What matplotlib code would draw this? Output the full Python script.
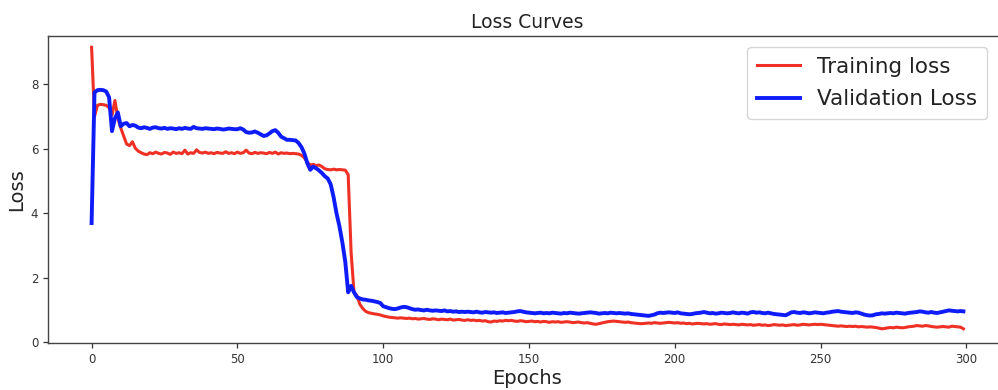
import matplotlib
matplotlib.use("Agg")
import matplotlib.pyplot as plt
import numpy as np

train_loss = [
    9.15, 7.00, 7.35, 7.38, 7.37, 7.35, 7.28, 7.05, 7.50, 6.95,
    6.65, 6.40, 6.15, 6.10, 6.22, 6.02, 5.93, 5.88, 5.84, 5.82,
    5.88, 5.85, 5.90, 5.86, 5.84, 5.89, 5.87, 5.83, 5.90, 5.86,
    5.88, 5.85, 5.96, 5.84, 5.88, 5.86, 5.97, 5.89, 5.87, 5.90,
    5.86, 5.88, 5.85, 5.89, 5.87, 5.86, 5.91, 5.86, 5.88, 5.85,
    5.90, 5.86, 5.88, 5.96, 5.87, 5.85, 5.89, 5.86, 5.88, 5.87,
    5.85, 5.89, 5.86, 5.90, 5.84, 5.88, 5.86, 5.87, 5.85, 5.86,
    5.85, 5.84, 5.80, 5.72, 5.58, 5.50, 5.52, 5.48, 5.50, 5.45,
    5.38, 5.36, 5.35, 5.37, 5.35, 5.36, 5.35, 5.34, 5.20, 2.80,
    1.55, 1.45, 1.18, 1.05, 0.96, 0.92, 0.90, 0.88, 0.87, 0.85,
    0.82, 0.80, 0.78, 0.77, 0.76, 0.75, 0.76, 0.75, 0.74, 0.75,
    0.73, 0.74, 0.72, 0.73, 0.74, 0.72, 0.71, 0.73, 0.72, 0.70,
    0.72, 0.71, 0.70, 0.72, 0.69, 0.70, 0.71, 0.69, 0.68, 0.70,
    0.68, 0.69, 0.67, 0.68, 0.66, 0.67, 0.64, 0.63, 0.66, 0.65,
    0.67, 0.66, 0.68, 0.67, 0.68, 0.66, 0.65, 0.67, 0.66, 0.64,
    0.65, 0.66, 0.64, 0.65, 0.63, 0.65, 0.64, 0.62, 0.64, 0.63,
    0.64, 0.62, 0.63, 0.64, 0.63, 0.61, 0.62, 0.63, 0.61, 0.60,
    0.61, 0.59, 0.57, 0.56, 0.58, 0.60, 0.62, 0.64, 0.65, 0.66,
    0.65, 0.64, 0.63, 0.62, 0.63, 0.61, 0.60, 0.59, 0.58, 0.58,
    0.59, 0.60, 0.59, 0.61, 0.60, 0.59, 0.60, 0.61, 0.62, 0.61,
    0.60, 0.61, 0.59, 0.60, 0.58, 0.59, 0.57, 0.58, 0.59, 0.58,
    0.57, 0.58, 0.56, 0.57, 0.58, 0.56, 0.55, 0.57, 0.56, 0.55,
    0.56, 0.55, 0.54, 0.56, 0.55, 0.54, 0.55, 0.53, 0.54, 0.55,
    0.53, 0.54, 0.52, 0.53, 0.55, 0.54, 0.53, 0.54, 0.52, 0.53,
    0.54, 0.55, 0.53, 0.54, 0.56, 0.55, 0.54, 0.55, 0.56, 0.55,
    0.56, 0.55, 0.54, 0.53, 0.52, 0.51, 0.50, 0.51, 0.50, 0.49,
    0.50, 0.49, 0.50, 0.48, 0.49, 0.48, 0.47, 0.48, 0.47, 0.46,
    0.44, 0.42, 0.43, 0.45, 0.46, 0.45, 0.47, 0.46, 0.45, 0.46,
    0.48, 0.49, 0.50, 0.52, 0.51, 0.50, 0.52, 0.51, 0.49, 0.48,
    0.47, 0.48, 0.49, 0.48, 0.47, 0.50, 0.49, 0.48, 0.47, 0.42,
]

val_loss = [
    3.70, 7.75, 7.82, 7.83, 7.82, 7.78, 7.60, 6.55, 6.95, 7.13,
    6.70, 6.78, 6.80, 6.70, 6.74, 6.72, 6.66, 6.64, 6.67, 6.65,
    6.62, 6.66, 6.67, 6.64, 6.63, 6.65, 6.62, 6.64, 6.63, 6.61,
    6.64, 6.62, 6.65, 6.63, 6.62, 6.68, 6.64, 6.63, 6.62, 6.64,
    6.63, 6.62, 6.61, 6.63, 6.62, 6.60, 6.61, 6.63, 6.62, 6.61,
    6.61, 6.64, 6.60, 6.52, 6.50, 6.51, 6.54, 6.50, 6.45, 6.40,
    6.42, 6.48, 6.55, 6.58, 6.50, 6.38, 6.33, 6.28, 6.28, 6.27,
    6.26, 6.18, 6.05, 5.85, 5.55, 5.35, 5.45, 5.40, 5.33, 5.25,
    5.15, 5.08, 4.90, 4.50, 4.00, 3.60, 3.10, 2.50, 1.55, 1.75,
    1.55, 1.40, 1.36, 1.33, 1.32, 1.30, 1.29, 1.27, 1.25, 1.22,
    1.12, 1.09, 1.06, 1.04, 1.03, 1.05, 1.08, 1.10, 1.09, 1.06,
    1.03, 1.01, 1.02, 1.00, 0.99, 1.01, 0.99, 0.98, 0.99, 0.98,
    0.97, 0.99, 0.96, 0.97, 0.95, 0.96, 0.94, 0.95, 0.94, 0.95,
    0.94, 0.93, 0.95, 0.93, 0.92, 0.94, 0.93, 0.92, 0.93, 0.91,
    0.92, 0.93, 0.91, 0.92, 0.93, 0.94, 0.96, 0.97, 0.95, 0.93,
    0.92, 0.91, 0.90, 0.91, 0.92, 0.90, 0.91, 0.90, 0.92, 0.91,
    0.90, 0.89, 0.91, 0.90, 0.92, 0.91, 0.90, 0.89, 0.90, 0.91,
    0.92, 0.93, 0.92, 0.91, 0.89, 0.90, 0.91, 0.90, 0.92, 0.91,
    0.90, 0.91, 0.90, 0.89, 0.90, 0.88, 0.87, 0.86, 0.85, 0.84,
    0.83, 0.82, 0.84, 0.86, 0.90, 0.92, 0.91, 0.92, 0.93, 0.92,
    0.91, 0.93, 0.90, 0.89, 0.88, 0.87, 0.88, 0.90, 0.91, 0.92,
    0.94, 0.92, 0.90, 0.91, 0.89, 0.90, 0.92, 0.91, 0.90, 0.91,
    0.93, 0.91, 0.90, 0.92, 0.91, 0.89, 0.93, 0.94, 0.92, 0.93,
    0.91, 0.90, 0.92, 0.90, 0.88, 0.87, 0.86, 0.85, 0.84, 0.88,
    0.93, 0.94, 0.92, 0.91, 0.93, 0.92, 0.90, 0.91, 0.93, 0.92,
    0.91, 0.90, 0.92, 0.93, 0.95, 0.96, 0.97, 0.95, 0.94, 0.93,
    0.92, 0.91, 0.93, 0.92, 0.89, 0.86, 0.84, 0.83, 0.84, 0.87,
    0.88, 0.90, 0.89, 0.90, 0.91, 0.90, 0.92, 0.91, 0.90, 0.89,
    0.91, 0.92, 0.93, 0.94, 0.96, 0.95, 0.93, 0.92, 0.94, 0.92,
    0.91, 0.93, 0.95, 0.97, 0.99, 0.98, 0.97, 0.96, 0.97, 0.96,
]

epochs = np.arange(len(train_loss))
series_labels = ["Training loss", "Validation Loss"]
x_ticks = [0, 50, 100, 150, 200, 250, 300]
y_ticks = [0, 2, 4, 6, 8]

W, H = 998, 390
fig = plt.figure(figsize=(W / 100, H / 100), dpi=100)
left_px, right_px, top_px, bot_px = 48.0, 1007.0, 36.0, 343.3
ax = fig.add_axes([left_px / W, 1 - bot_px / H, (right_px - left_px) / W, (bot_px - top_px) / H])

ax.plot(epochs, train_loss, color="#ee3124", lw=2.2, label=series_labels[0])
ax.plot(epochs, val_loss, color="#0d1cf8", lw=2.8, label=series_labels[1])

ax.set_xlim(-14.95, 313.95)
ax.set_ylim(-0.03, 9.5)
ax.set_xticks(x_ticks)
ax.set_yticks(y_ticks)

for s in ax.spines.values():
    s.set_color("#444444")
    s.set_linewidth(1.0)
ax.spines["right"].set_visible(False)
ax.tick_params(labelsize=8.5, colors="#333333", length=3.5, width=0.9)

ax.set_title("Loss Curves", fontsize=13.5, color="#222222", pad=6)
ax.set_xlabel("Epochs", fontsize=14, color="#222222", labelpad=2)
ax.set_ylabel("Loss", fontsize=14, color="#222222", labelpad=3)

ax_w = right_px - left_px
ax_h = bot_px - top_px
leg = ax.legend(loc="upper right",
                bbox_to_anchor=((987 - left_px) / ax_w, (bot_px - 47) / ax_h),
                borderaxespad=0.0,
                fontsize=15.5, frameon=True, handlelength=2.0, borderpad=0.45,
                labelspacing=0.58, handletextpad=0.8)
leg.get_frame().set_edgecolor("#cccccc")
for t in leg.get_texts():
    t.set_color("#222222")

fig.savefig("out.png", dpi=100)
